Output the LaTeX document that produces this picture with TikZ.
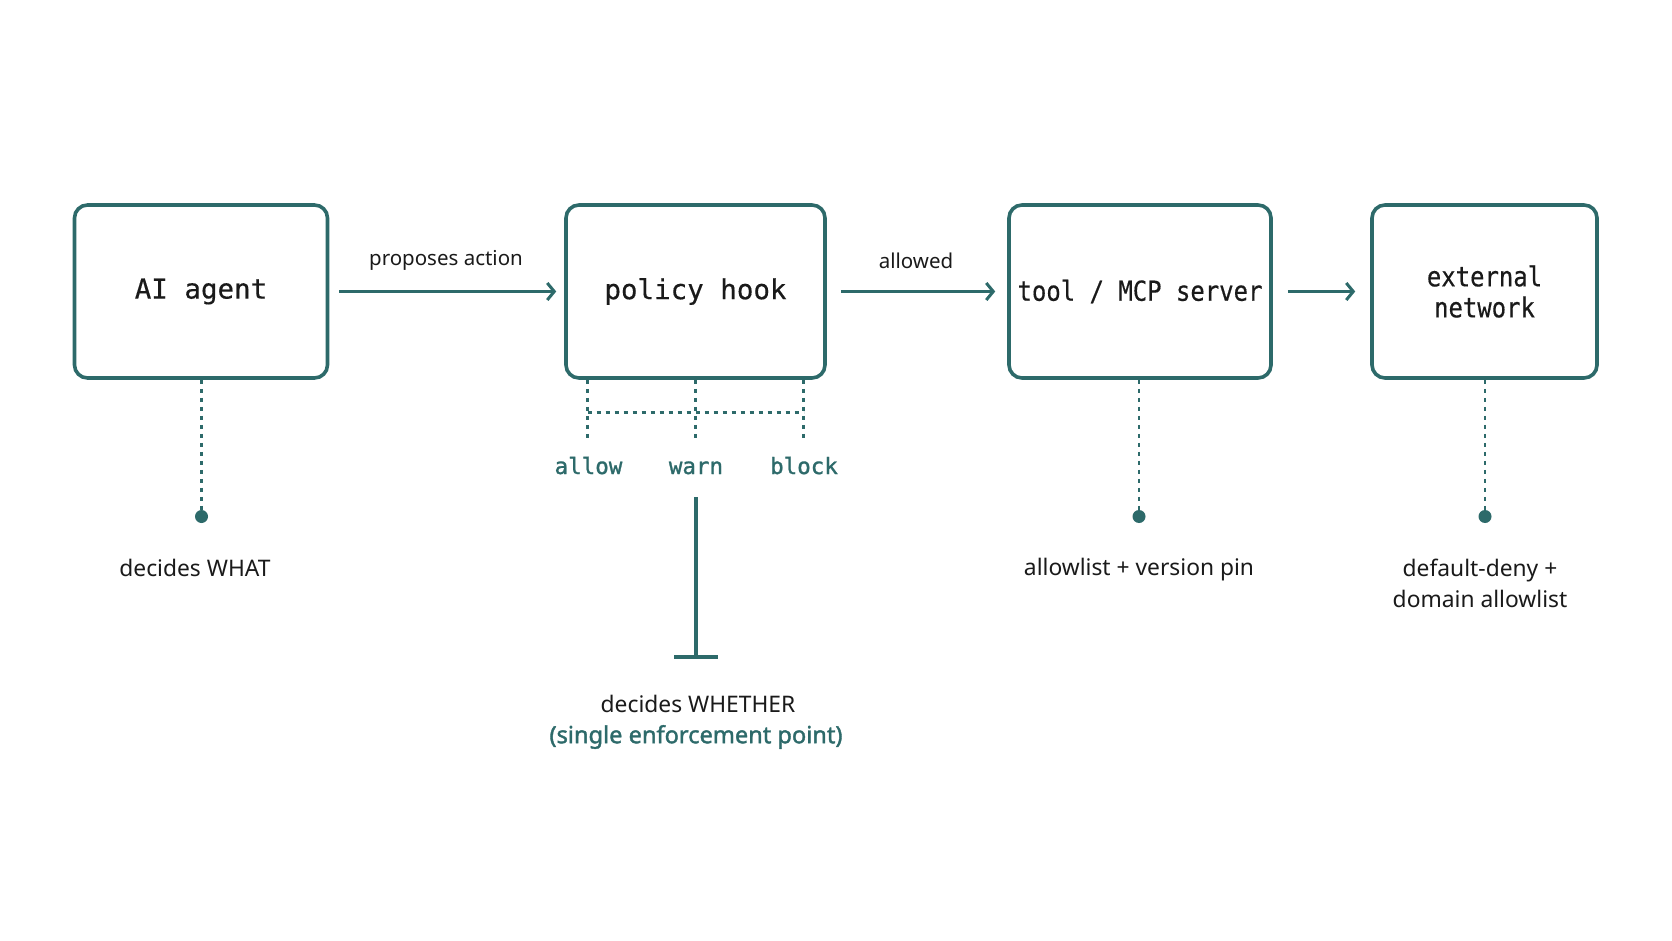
\documentclass[tikz,border=0pt]{standalone}
\usepackage{fontspec}
\setmainfont{Noto Sans}
\newfontfamily\notob[FakeBold=1.6]{Noto Sans}
\newfontfamily\monof[FakeBold=0.4]{DejaVu Sans Mono}
\newfontfamily\monov[FakeBold=1.2]{DejaVu Sans Mono}
\newfontfamily\monoc[FakeStretch=0.87,FakeBold=0.4]{DejaVu Sans Mono}
\usetikzlibrary{arrows.meta}
\definecolor{teal1}{HTML}{2D6A6A}
\definecolor{ink}{HTML}{1A1A1A}
\tikzset{
  boxn/.style={draw=teal1, line width=3.6pt, rounded corners=13pt, minimum height=173pt, inner sep=0pt, font=\monof\fontsize{27.5}{31}\selectfont, text=ink, align=center},
  boxc/.style={boxn, font=\monoc\fontsize{27.5}{31}\selectfont},
  flow/.style={draw=teal1, line width=3pt, -{Straight Barb[length=7pt,width=17pt,line width=3pt]}},
  lbl/.style={font=\fontsize{20.5}{24}\selectfont, text=ink},
  note/.style={font=\fontsize{22.8}{31}\selectfont, text=ink, align=center},
  dotl/.style={draw=teal1, line width=2.8pt, dash pattern=on 4pt off 5pt},
  verd/.style={font=\monov\fontsize{22.5}{26}\selectfont, text=teal1, anchor=base},
  dotn/.style={circle, fill=teal1, inner sep=0pt, minimum size=13pt},
  solidt/.style={draw=teal1, line width=4.5pt},
}
\begin{document}
\begin{tikzpicture}[x=1pt,y=-1pt]
\useasboundingbox (0,0) rectangle (1672,941);
\fill[white] (0,0) rectangle (1672,941);
% boxes
\node[boxn, minimum width=253pt] (agent) at (201,291.5) {AI agent};
\node[boxn, minimum width=259pt] (hook) at (695.5,291.5) {policy hook};
\node[boxc, minimum width=262pt] (tool) at (1140,291.5) {tool / MCP server};
\node[boxc, minimum width=225pt] (net) at (1484.5,291.5) {external\\network};
% flow arrows
\draw[flow, shorten <=10pt, shorten >=8pt] (agent.east) -- (hook.west);
\draw[flow, shorten <=14pt, shorten >=12pt] (hook.east) -- (tool.west);
\draw[flow, shorten <=15pt, shorten >=15pt] (tool.east) -- (net.west);
\node[lbl] (pa) at (446,260) {proposes action};
\node[lbl] (al) at (916,261) {allowed};
% verdict branches
\coordinate (va) at (587.5,440);
\coordinate (vw) at (695.5,440);
\coordinate (vb) at (803.5,440);
\draw[dotl] (hook.south -| va) -- (va);
\draw[dotl] (hook.south -| vw) -- (vw);
\draw[dotl] (hook.south -| vb) -- (vb);
\coordinate (hl) at (587.5,412.5);
\coordinate (hr) at (803.5,412.5);
\draw[dotl] (hl) -- (hr);
\node[verd] (allow) at (588.5,474) {allow};
\node[verd] (warn) at (696,474) {warn};
\node[verd] (block) at (804,474) {block};
% single enforcement point
\coordinate (tt) at (696,497);
\coordinate (tb) at (696,657);
\coordinate (tl) at (674,657);
\coordinate (tr) at (718,657);
\draw[solidt] (tt) -- (tb);
\draw[solidt] (tl) -- (tr);
\node[note] (whether) at (698,704) {decides WHETHER};
\node[font=\notob\fontsize{23.6}{26}\selectfont, text=teal1] (sep) at (696,737) {(single enforcement point)};
% annotations
\node[dotn] (d1) at (201.5,516.5) {};
\node[dotn] (d3) at (1139,516.5) {};
\node[dotn] (d4) at (1485,516.5) {};
\draw[dotl] (agent.south -| d1) -- (d1);
\draw[dotl] (tool.south -| d3) -- (d3);
\draw[dotl] (net.south -| d4) -- (d4);
\node[note] (what) at (195,568) {decides WHAT};
\node[note] (pin) at (1139,570) {allowlist + version pin};
\node[note, anchor=north] (deny) at (1480,556) {default-deny +\\domain allowlist};
\end{tikzpicture}
\end{document}
